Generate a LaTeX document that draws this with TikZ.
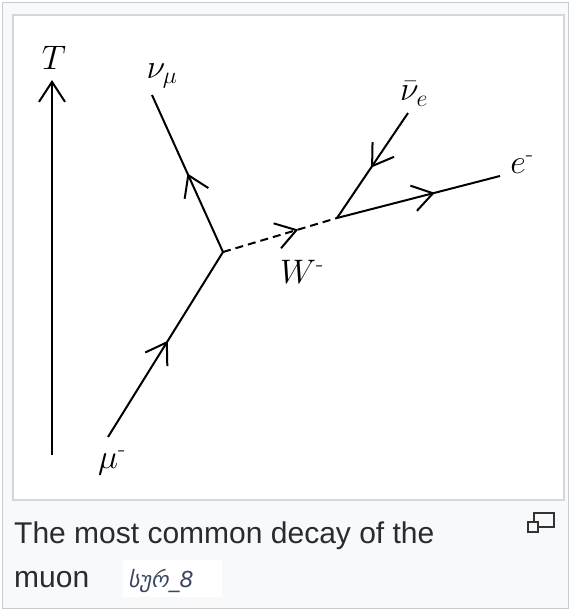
\RequirePackage{fix-cm}
\documentclass[tikz,border=0pt]{standalone}
\usepackage{amsmath}
\usepackage{fontspec}
\usetikzlibrary{arrows.meta,decorations.markings}
\newfontfamily\capfont{Liberation Sans}
\newfontfamily\geofont{DejaVu Sans}
\definecolor{framegray}{HTML}{C8CCD1}
\definecolor{innergray}{HTML}{D4D6D9}
\definecolor{capbg}{HTML}{F8F9FA}
\definecolor{captext}{HTML}{2A2B2C}
\definecolor{geotext}{HTML}{3B4660}
\tikzset{
  barb/.tip={Straight Barb[length=20pt,width=26pt,line width=2pt]},
  fermion/.style={line width=2pt, postaction={decorate},
    decoration={markings, mark=at position #1 with {\arrow{barb}}}},
  boson/.style={line width=2pt, dash pattern=on 8pt off 5pt, postaction={decorate},
    decoration={markings, mark=at position #1 with {\arrow{barb}}}},
  lbl/.style={inner sep=0pt, font=\fontsize{34}{40}\selectfont},
}
\begin{document}
\begin{tikzpicture}[x=1pt,y=-1pt]
  \useasboundingbox (0,0) rectangle (571,611);
  % frames
  \draw[framegray, line width=1.5pt, fill=capbg] (2.5,2.5) rectangle (568.5,608.5);
  \draw[innergray, line width=1.5pt, fill=white] (13,15) rectangle (564,500);

  % time axis
  \coordinate (tbot) at (52,455);
  \coordinate (ttop) at (52,80);
  \draw[line width=2pt, -{barb}] (tbot) -- (ttop);
  \node[lbl] (T) at (54,58) {$T$};

  % vertices and ends
  \coordinate (v1) at (223,252);
  \coordinate (v2) at (337,218);
  \coordinate (numuend) at (152,95);
  \coordinate (muend) at (108,437);
  \coordinate (nueend) at (408,113);
  \coordinate (eend) at (500,176);

  \draw[fermion=0.52] (muend) -- (v1);
  \draw[fermion=0.5] (v1) -- (numuend);
  \draw[boson=0.66] (v1) -- (v2);
  \draw[fermion=0.52] (nueend) -- (v2);
  \draw[fermion=0.6] (v2) -- (eend);

  \node[lbl] (numu) at (162,76) {$\nu_\mu$};
  \node[lbl] (mu) at (112,463) {$\mu^{\text{-}}$};
  \node[lbl] (W) at (302,272) {$W^{\text{-}}$};
  \node[lbl] (nue) at (414,94) {$\bar{\nu}_e$};
  \node[lbl] (e) at (522,165) {$e^{\text{-}}$};

  % caption
  \node[anchor=base west, inner sep=0pt, text=captext, font=\capfont\fontsize{30}{36}\selectfont] (cap1) at (14,543) {The most common decay of the};
  \node[anchor=base west, inner sep=0pt, text=captext, font=\capfont\fontsize{30}{36}\selectfont] (cap2) at (14,587) {muon};
  \fill[white] (123,560) rectangle (222,597);
  \node[anchor=base west, inner sep=0pt, text=geotext, font=\geofont\itshape\fontsize{22}{26}\selectfont] (geo) at (128,587) {სურ\_8};

  % enlarge icon
  \draw[line width=1.6pt, color=black!80] (534,513) rectangle (554,527);
  \draw[line width=1.6pt, color=black!80, fill=capbg] (528,522) rectangle (538,532);
\end{tikzpicture}
\end{document}
